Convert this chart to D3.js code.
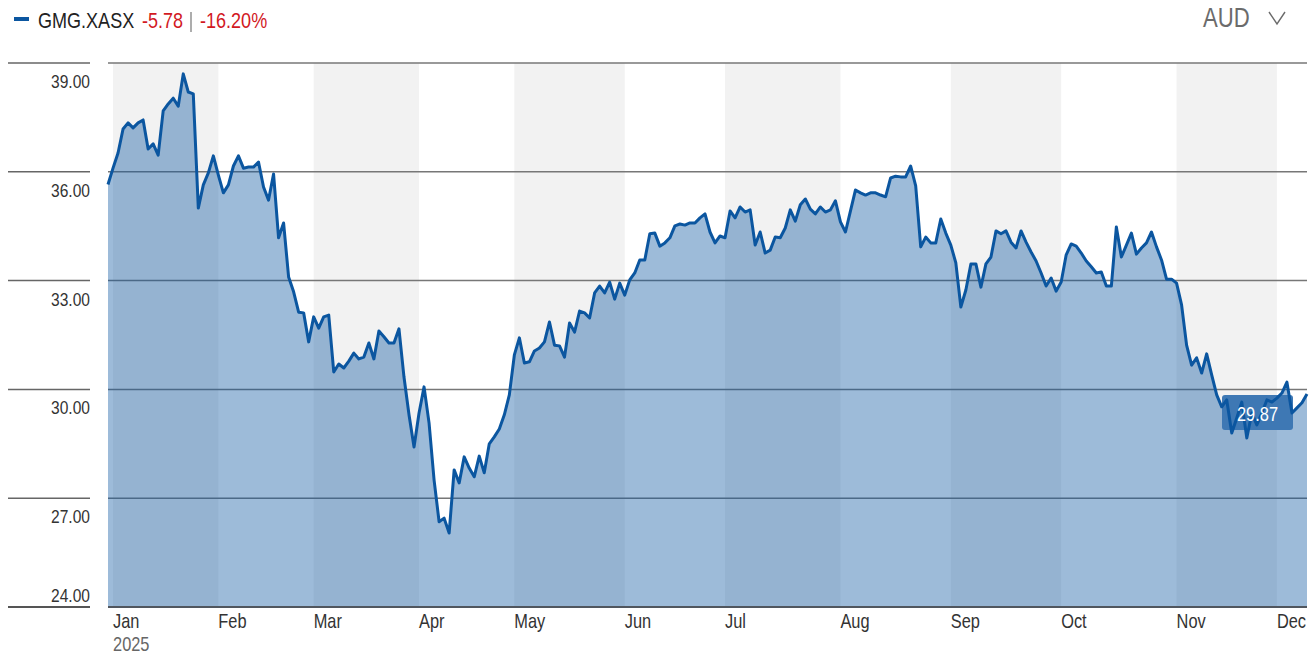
<!DOCTYPE html>
<html>
<head>
<meta charset="utf-8">
<script src="https://cdn.jsdelivr.net/npm/d3@7"></script>
<style>
  html, body { margin: 0; padding: 0; background: #fff; }
  svg { display: block; }
  text { font-family: 'Liberation Sans', Arial, 'DejaVu Sans', sans-serif; }
</style>
</head>
<body>
<svg id="chart" width="1312" height="660"></svg>
<script>
// ---------------- DATA ----------------
const ticker = "GMG.XASX";
const changeAbs = "-5.78";
const changePct = "-16.20%";
const currency = "AUD";
const yearLabel = "2025";
const monthLabels = ["Jan","Feb","Mar","Apr","May","Jun","Jul","Aug","Sep","Oct","Nov","Dec"];
// index of first trading day of each month in the price series
const monthStartIdx = [1, 22, 41, 62, 81, 103, 123, 146, 168, 190, 213, 233];
const yTicks = [24, 27, 30, 33, 36, 39];
// daily closing prices (AUD), 31 Dec 2024 .. early Dec 2025
const prices = [
 35.65, 36.10, 36.52, 37.18, 37.35, 37.21, 37.35, 37.43, 36.63, 36.77,
 36.46, 37.68, 37.87, 38.03, 37.81, 38.70, 38.20, 38.15, 35.00, 35.64,
 35.97, 36.44, 35.91, 35.42, 35.64, 36.16, 36.44, 36.10, 36.13, 36.13,
 36.27, 35.58, 35.22, 35.94, 34.18, 34.59, 33.10, 32.69, 32.13, 32.11,
 31.31, 32.00, 31.69, 32.00, 32.05, 30.48, 30.70, 30.59, 30.78, 31.00,
 30.84, 30.89, 31.28, 30.84, 31.61, 31.45, 31.28, 31.28, 31.67, 30.34,
 29.30, 28.41, 29.35, 30.07, 29.07, 27.50, 26.35, 26.45, 26.04, 27.78,
 27.42, 28.14, 27.83, 27.59, 28.16, 27.70, 28.50, 28.69, 28.91, 29.30,
 29.85, 30.95, 31.42, 30.73, 30.76, 31.06, 31.14, 31.31, 31.86, 31.22,
 31.20, 30.89, 31.83, 31.58, 32.16, 32.11, 31.97, 32.66, 32.85, 32.66,
 32.96, 32.49, 32.93, 32.60, 33.02, 33.21, 33.57, 33.57, 34.29, 34.31,
 33.95, 34.04, 34.18, 34.51, 34.56, 34.53, 34.59, 34.59, 34.73, 34.84,
 34.34, 34.04, 34.23, 34.18, 34.92, 34.73, 35.03, 34.89, 34.95, 33.98,
 34.34, 33.76, 33.84, 34.20, 34.18, 34.45, 34.95, 34.64, 35.09, 35.25,
 34.97, 34.84, 35.03, 34.89, 34.95, 35.20, 34.62, 34.34, 34.92, 35.50,
 35.42, 35.36, 35.42, 35.42, 35.36, 35.31, 35.83, 35.88, 35.86, 35.86,
 36.16, 35.61, 33.93, 34.20, 34.04, 34.04, 34.70, 34.31, 33.98, 33.49,
 32.27, 32.74, 33.46, 33.46, 32.82, 33.46, 33.65, 34.37, 34.29, 34.37,
 34.06, 33.90, 34.37, 34.06, 33.79, 33.54, 33.21, 32.85, 33.07, 32.71,
 32.96, 33.71, 34.01, 33.95, 33.76, 33.54, 33.38, 33.21, 33.24, 32.85,
 32.85, 34.48, 33.65, 33.98, 34.31, 33.73, 33.90, 34.04, 34.34, 33.93,
 33.57, 33.04, 33.04, 32.93, 32.33, 31.22, 30.67, 30.87, 30.45, 30.98,
 30.40, 29.85, 29.52, 29.71, 28.80, 29.21, 29.65, 28.66, 29.35, 29.02,
 29.35, 29.71, 29.65, 29.76, 29.90, 30.20, 29.35, 29.49, 29.63, 29.87
];

// ---------------- LAYOUT ----------------
(function () {
const svg = d3.select("#chart");
const pL = 108, pR = 1307, pT = 63, pB = 607;
const lineColor = "#0b56a0";
const NARROW = 0.82; // horizontal squeeze to mimic a condensed face

function label(parent, tx, ty, str, size, fill, anchor) {
  return parent.append("text")
    .attr("transform", `translate(${tx},${ty}) scale(${NARROW},1)`)
    .attr("text-anchor", anchor || "start")
    .attr("font-size", size).attr("fill", fill).text(str);
}

const x = d3.scaleLinear().domain([0, prices.length - 1]).range([pL, pR]);
const y = d3.scaleLinear().domain([d3.min(yTicks), d3.max(yTicks)]).range([pB, pT]);

// month bands
const bandData = monthStartIdx.map((s, i) => ({
  x0: x(s),
  x1: i < monthStartIdx.length - 1 ? x(monthStartIdx[i + 1]) : pR,
  shaded: i % 2 === 0
}));
svg.append("g").selectAll("rect").data(bandData.filter(d => d.shaded)).join("rect")
  .attr("x", d => d.x0).attr("y", pT)
  .attr("width", d => d.x1 - d.x0).attr("height", pB - pT)
  .attr("fill", "#f2f2f2");

// gridlines
const gridTicks = yTicks.filter(t => t !== d3.min(yTicks));
const grid = svg.append("g");
grid.selectAll("line.g").data(gridTicks).join("line")
  .attr("class", "g")
  .attr("x1", pL).attr("x2", pR)
  .attr("y1", d => y(d)).attr("y2", d => y(d))
  .attr("stroke", "#777").attr("stroke-width", 1.5);
grid.selectAll("line.l").data(gridTicks).join("line")
  .attr("class", "l")
  .attr("x1", 8).attr("x2", 90)
  .attr("y1", d => y(d)).attr("y2", d => y(d))
  .attr("stroke", "#666").attr("stroke-width", 1.5);

// area
const area = d3.area().x((d, i) => x(i)).y0(pB).y1(d => y(d));
svg.append("path").datum(prices).attr("d", area)
  .attr("fill", lineColor).attr("fill-opacity", 0.4);

// bottom axis line
svg.append("line").attr("x1", pL).attr("x2", pR).attr("y1", pB).attr("y2", pB)
  .attr("stroke", "#50565e").attr("stroke-width", 2);
svg.append("line").attr("x1", 8).attr("x2", 90).attr("y1", pB).attr("y2", pB)
  .attr("stroke", "#555").attr("stroke-width", 2);

// last value badge (box)
const lastI = prices.length - 1, lastV = prices[lastI];
const bx = x(lastI) - 85, by = y(lastV) + 1;
svg.append("rect").attr("x", bx).attr("y", by).attr("width", 71).attr("height", 35)
  .attr("rx", 3).attr("fill", "#3e78b4");

// line
const line = d3.line().x((d, i) => x(i)).y(d => y(d));
svg.append("path").datum(prices).attr("d", line)
  .attr("fill", "none").attr("stroke", lineColor).attr("stroke-width", 3)
  .attr("stroke-linejoin", "round");

label(svg, bx + 35.5, by + 26, lastV.toFixed(2), 20, "#fff", "middle");

// y labels
const yl = svg.append("g");
yTicks.forEach(t => {
  label(yl, 90, Math.min(y(t) + 25, pB - 5), t.toFixed(2), 19, "#333", "end");
});

// month labels
const ml = svg.append("g");
monthLabels.forEach((m, i) => label(ml, x(monthStartIdx[i]), 628, m, 20, "#333"));
label(svg, x(monthStartIdx[0]), 651, yearLabel, 20, "#666");

// header
svg.append("rect").attr("x", 14).attr("y", 17).attr("width", 15).attr("height", 4).attr("fill", lineColor);
label(svg, 38, 28, ticker, 22, "#222");
label(svg, 142, 28, changeAbs, 22, "#d2191f");
svg.append("line").attr("x1", 191).attr("x2", 191).attr("y1", 12).attr("y2", 32)
  .attr("stroke", "#999").attr("stroke-width", 1.6);
label(svg, 200, 28, changePct, 22, "#d2191f");

label(svg, 1203, 27, currency, 27, "#6b6b6b");
svg.append("path").attr("d", "M1269,12 L1277,24 L1285,12")
  .attr("fill", "none").attr("stroke", "#6b6b6b").attr("stroke-width", 1.4);
})();
</script>
</body>
</html>
